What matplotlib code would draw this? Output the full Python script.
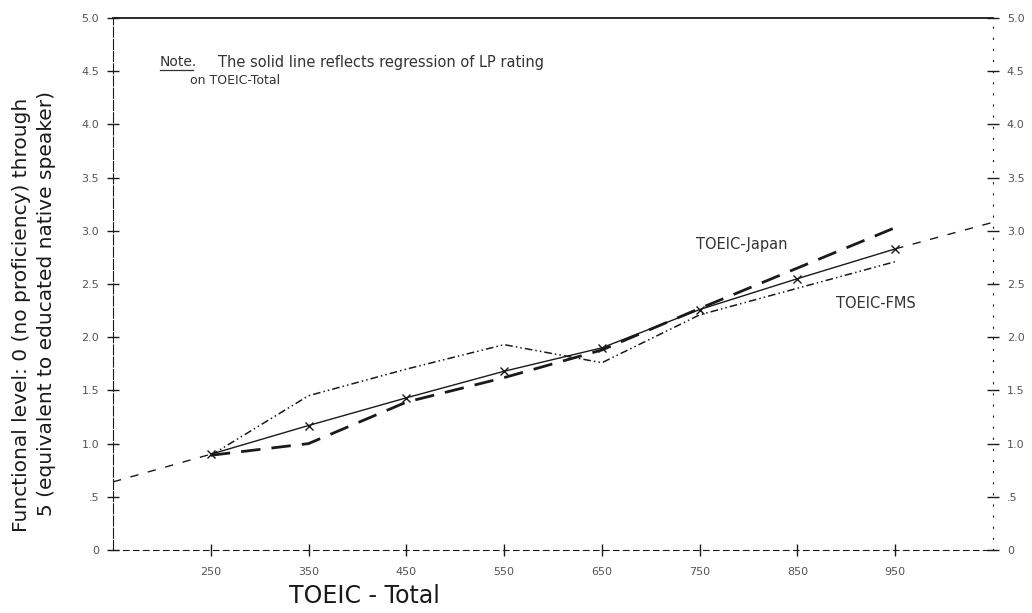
import numpy as np
import matplotlib.pyplot as plt
from matplotlib.lines import Line2D

# TOEIC score bands (x) and mean functional level ratings (y)
scores = [250, 350, 450, 550, 650, 750, 850, 950]
japan = [0.89, 1.00, 1.39, 1.62, 1.88, 2.27, 2.65, 3.03]
fms = [0.89, 1.45, 1.70, 1.93, 1.76, 2.21, 2.46, 2.71]
regr = [0.90, 1.17, 1.43, 1.68, 1.90, 2.26, 2.55, 2.83]
regr_left_x = [150, 250]
regr_left_y = [0.64, 0.90]
regr_right_x = [950, 1050]
regr_right_y = [2.83, 3.08]

yticks = [0, 0.5, 1.0, 1.5, 2.0, 2.5, 3.0, 3.5, 4.0, 4.5, 5.0]
ytick_labels = ["0", ".5", "1.0", "1.5", "2.0", "2.5", "3.0", "3.5", "4.0", "4.5", "5.0"]

plt.rcParams['font.family'] = ['DejaVu Sans']

fig = plt.figure(figsize=(10.32, 6.13), dpi=100)
ax = fig.add_axes([0.1095, 0.1028, 0.8527, 0.8678])

ink = "#1a1a1a"

# regression (solid) with markers, extrapolated parts dashed
ax.plot(scores, regr, color=ink, lw=1.0, marker="x", ms=6, mew=1.0)
ax.plot(regr_left_x, regr_left_y, color=ink, lw=1.0, dashes=(6, 7))
ax.plot(regr_right_x, regr_right_y, color=ink, lw=1.0, dashes=(6, 7))

ax.plot(scores, japan, color=ink, lw=2.0, dashes=(7, 4))
ax.plot(scores, fms, color=ink, lw=1.1, dashes=(5, 2, 1, 2, 1, 2))

ax.text(793, 2.87, "TOEIC-Japan", fontsize=10.5, color="#333333",
        ha="center", va="center")
ax.text(930, 2.32, "TOEIC-FMS", fontsize=10.5, color="#333333",
        ha="center", va="center")

ax.set_xlim(150, 1050)
ax.set_ylim(0, 5.0)
ax.set_xticks(scores)
ax.set_xticklabels([str(s) for s in scores])
ax.set_yticks(yticks)
ax.set_yticklabels(ytick_labels)

ax.tick_params(axis="both", direction="inout", length=8, width=1.0,
               colors=ink, labelcolor="#555555", labelsize=8)
ax.tick_params(axis="y", right=True, labelright=True, pad=6)
ax.tick_params(axis="x", pad=8)

ax.spines["top"].set_linewidth(1.3)
ax.spines["top"].set_color(ink)
ax.spines["left"].set_linestyle((0, (9, 2)))
ax.spines["left"].set_color(ink)
ax.spines["bottom"].set_linestyle((0, (5, 4)))
ax.spines["bottom"].set_color(ink)
ax.spines["right"].set_linestyle((0, (1, 9)))
ax.spines["right"].set_color(ink)

# axis labels
fig.text(364 / 1032, 1 - 596 / 613, "TOEIC - Total", fontsize=17, color=ink,
         ha="center", va="center")
fig.text(22 / 1032, 1 - 315 / 613, "Functional level: 0 (no proficiency) through",
         fontsize=14.5, color=ink, rotation=90, ha="center", va="center")
fig.text(47 / 1032, 1 - 303 / 613, "5 (equivalent to educated native speaker)",
         fontsize=14.5, color=ink, rotation=90, ha="center", va="center")

# note
note = fig.text(160 / 1032, 1 - 62 / 613, "Note.", fontsize=10, color="#333333",
                ha="left", va="center")
fig.text(218 / 1032, 1 - 62 / 613,
         "The solid line reflects regression of LP rating",
         fontsize=10.5, color="#333333", ha="left", va="center")
fig.text(190 / 1032, 1 - 80 / 613, "on TOEIC-Total", fontsize=9,
         color="#333333", ha="left", va="center")

fig.canvas.draw()
bb = note.get_window_extent().transformed(fig.transFigure.inverted())
fig.add_artist(Line2D([bb.x0, bb.x1 - 0.004], [bb.y0 - 0.002, bb.y0 - 0.002],
                      transform=fig.transFigure, color="#333333", lw=0.9))

fig.savefig("out.png", dpi=100)
